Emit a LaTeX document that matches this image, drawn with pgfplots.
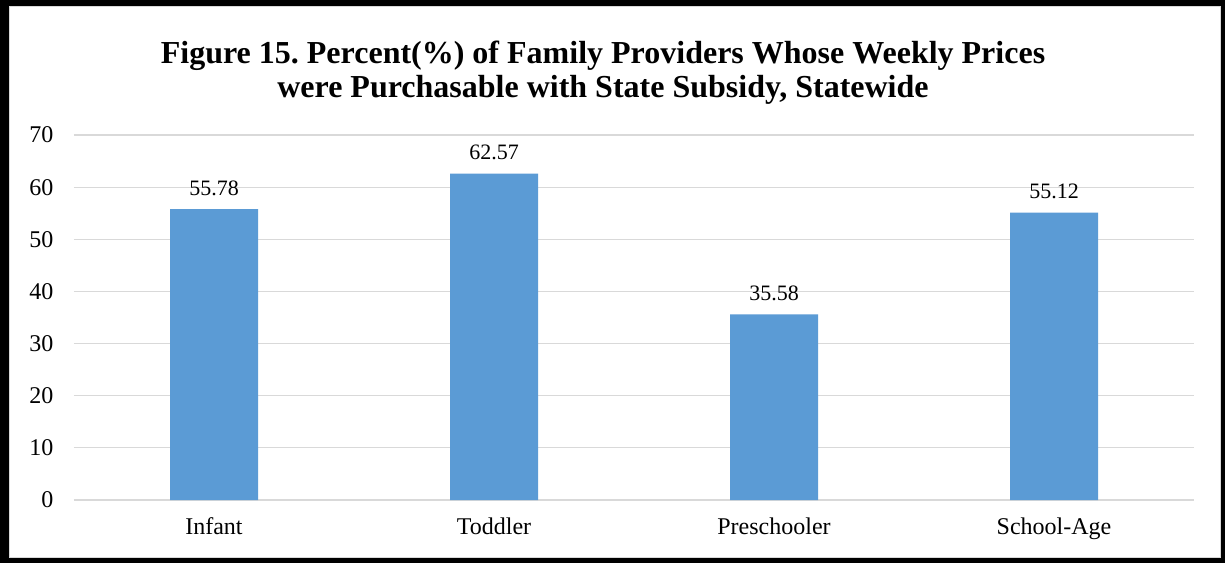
\documentclass[border=0pt]{standalone}
\usepackage{fontspec}
\setmainfont{Liberation Serif}
\usepackage{pgfplots}
\pgfplotsset{compat=1.18}
\definecolor{barblue}{HTML}{5B9BD5}
\definecolor{gridgray}{HTML}{D9D9D9}
\frenchspacing
\begin{document}
\begin{tikzpicture}[x=1pt,y=1pt]
\useasboundingbox (-74,-63) rectangle (1151,500);
% frame with heavy black edge and thin grey inner line
\fill[black] (-74,-63) rectangle (1151,500);
\fill[white,draw=gridgray,line width=1pt] (-64,-57) rectangle (1146,493);
\node[align=center,font=\bfseries\fontsize{32}{34}\selectfont] at (529,427)
  {Figure 15. Percent(\%) of Family Providers Whose Weekly Prices\\were Purchasable with State Subsidy, Statewide};
\begin{axis}[
  at={(0,0)}, anchor=south west,
  scale only axis,
  width=1120pt, height=365pt,
  xmin=-0.5, xmax=3.5,
  ymin=0, ymax=70,
  ytick={0,10,...,70},
  xtick={0,1,2,3},
  xticklabels={Infant,Toddler,Preschooler,School-Age},
  ybar, bar width=88pt,
  axis line style={draw=none},
  major tick length=0pt,
  ymajorgrids,
  grid style={gridgray,line width=1.2pt},
  /pgf/number format/assume math mode=true,
  tick label style={font=\fontsize{24}{28}\selectfont},
  yticklabel style={xshift=-17pt},
  xticklabel style={yshift=-14pt},
  nodes near coords,
  nodes near coords style={font=\fontsize{22}{26}\selectfont,
    /pgf/number format/.cd,fixed,precision=2,fixed zerofill,assume math mode=true,
    /tikz/.cd,anchor=south,yshift=10pt,text=black},
]
\addplot[fill=barblue,draw=none] coordinates {(0,55.78) (1,62.57) (2,35.58) (3,55.12)};
\end{axis}
\end{tikzpicture}
\end{document}
